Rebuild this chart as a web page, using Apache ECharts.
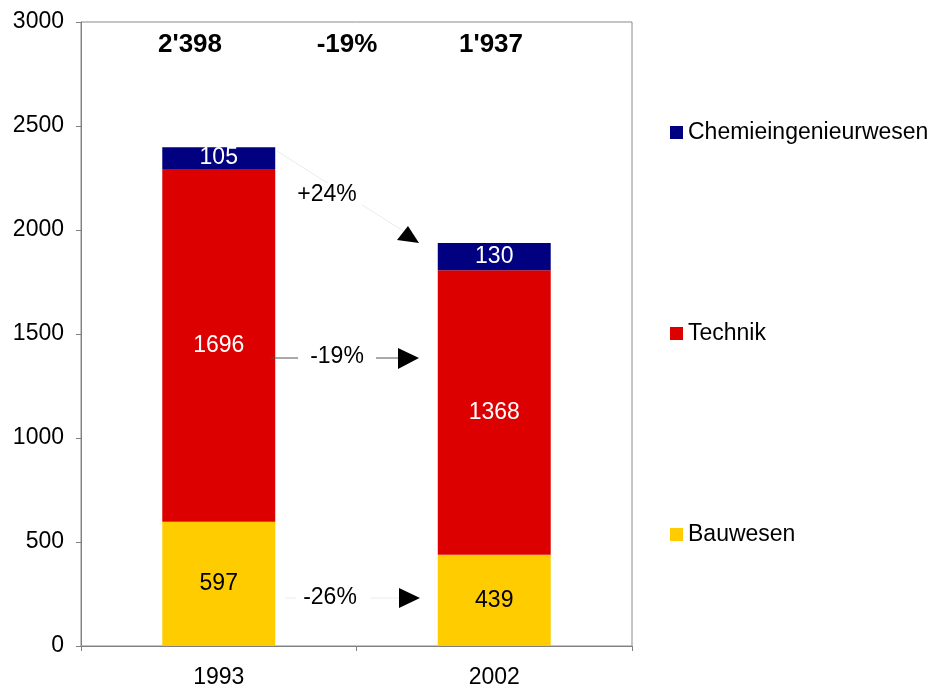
<!DOCTYPE html>
<html>
<head>
<meta charset="utf-8">
<script src="https://cdn.jsdelivr.net/npm/echarts@6/dist/echarts.min.js"></script>
<style>
  html, body { margin: 0; padding: 0; background: #fff; }
  #chart { width: 941px; height: 688px; }
</style>
</head>
<body>
<div id="chart"></div>
<script>
// data
const categories = ['1993', '2002'];
const bauwesen = [597, 439];
const technik = [1696, 1368];
const chemie = [105, 130];
const yMin = 0, yMax = 3000, yStep = 500;

const FONT = '"Liberation Sans", Arial, sans-serif';

const totals = categories.map((c, i) => bauwesen[i] + technik[i] + chemie[i]);
const fmtThousand = v => String(v).replace(/\B(?=(\d{3})+(?!\d))/g, "'");
const pct = (a, b) => {
  const p = Math.round((b / a - 1) * 100);
  return (p > 0 ? '+' : '') + p + '%';
};

const chart = echarts.init(document.getElementById('chart'), null, { renderer: 'canvas' });

function seg(name, data, color, labelColor) {
  return {
    name: name,
    type: 'bar',
    stack: 'total',
    data: data,
    barWidth: '41%',
    itemStyle: { color: color },
    label: {
      show: true,
      position: 'inside',
      color: labelColor,
      fontFamily: FONT,
      fontSize: 23
    }
  };
}

const txt = (x, y, s, bold, size) => ({
  type: 'text',
  x: x, y: y,
  style: {
    text: s,
    fill: '#000',
    font: (bold ? 'bold ' : '') + (size || 23) + 'px ' + FONT,
    align: 'center',
    verticalAlign: 'middle'
  },
  z: 10
});
const line = (x1, y1, x2, y2, color) => ({
  type: 'line',
  shape: { x1: x1, y1: y1, x2: x2, y2: y2 },
  style: { stroke: color, lineWidth: 1 },
  z: 5
});
const tri = (pts) => ({
  type: 'polygon',
  shape: { points: pts },
  style: { fill: '#000' },
  z: 6
});

const option = {
  animation: false,
  backgroundColor: '#fff',
  grid: {
    left: 81, top: 22, width: 551, height: 624,
    show: true, borderColor: '#8a8a8a', borderWidth: 1,
    outerBoundsMode: 'none'
  },
  legend: {
    orient: 'vertical',
    left: 665,
    top: 116,
    itemGap: 178,
    itemWidth: 13,
    itemHeight: 13,
    icon: 'rect',
    data: ['Chemieingenieurwesen', 'Technik', 'Bauwesen'],
    textStyle: { fontFamily: FONT, fontSize: 23, color: '#000' }
  },
  xAxis: {
    type: 'category',
    data: categories,
    axisLine: { lineStyle: { color: '#808080' } },
    axisTick: { show: true, length: 5, lineStyle: { color: '#808080' } },
    axisLabel: { color: '#000', fontFamily: FONT, fontSize: 23, margin: 20 },
    splitLine: { show: false }
  },
  yAxis: {
    type: 'value',
    min: yMin, max: yMax, interval: yStep,
    axisLine: { show: true, lineStyle: { color: '#808080' } },
    axisTick: { show: true, length: 5, lineStyle: { color: '#808080' } },
    axisLabel: { color: '#000', fontFamily: FONT, fontSize: 23, margin: 17, formatter: v => String(v) },
    splitLine: { show: false }
  },
  series: [
    seg('Bauwesen', bauwesen, '#FFCC00', '#000'),
    seg('Technik', technik, '#DD0000', '#fff'),
    seg('Chemieingenieurwesen', chemie, '#000080', '#fff')
  ],
  graphic: [
    // totals at top
    txt(190, 45, fmtThousand(totals[0]), true, 26),
    txt(347, 45, pct(totals[0], totals[1]), true, 26),
    txt(491, 45, fmtThousand(totals[1]), true, 26),
    // Chemie change
    line(277, 151, 408, 234, '#ececec'),
    { type: 'rect', shape: { x: 294, y: 183, width: 68, height: 25 }, style: { fill: '#fff' }, z: 5.5 },
    txt(327, 195, pct(chemie[0], chemie[1]), false),
    tri([[408, 226], [397, 240], [419, 243]]),
    // Technik change
    line(271, 358, 298, 358, '#555'),
    line(376, 358, 400, 358, '#555'),
    txt(337, 357, pct(technik[0], technik[1]), false),
    tri([[398, 348], [398, 369], [419, 358]]),
    // Bauwesen change
    line(285, 598, 296, 598, '#ececec'),
    line(370, 598, 400, 598, '#ececec'),
    txt(330, 598, pct(bauwesen[0], bauwesen[1]), false),
    tri([[399, 588], [399, 608], [420, 598]])
  ]
};

chart.setOption(option);
</script>
</body>
</html>
